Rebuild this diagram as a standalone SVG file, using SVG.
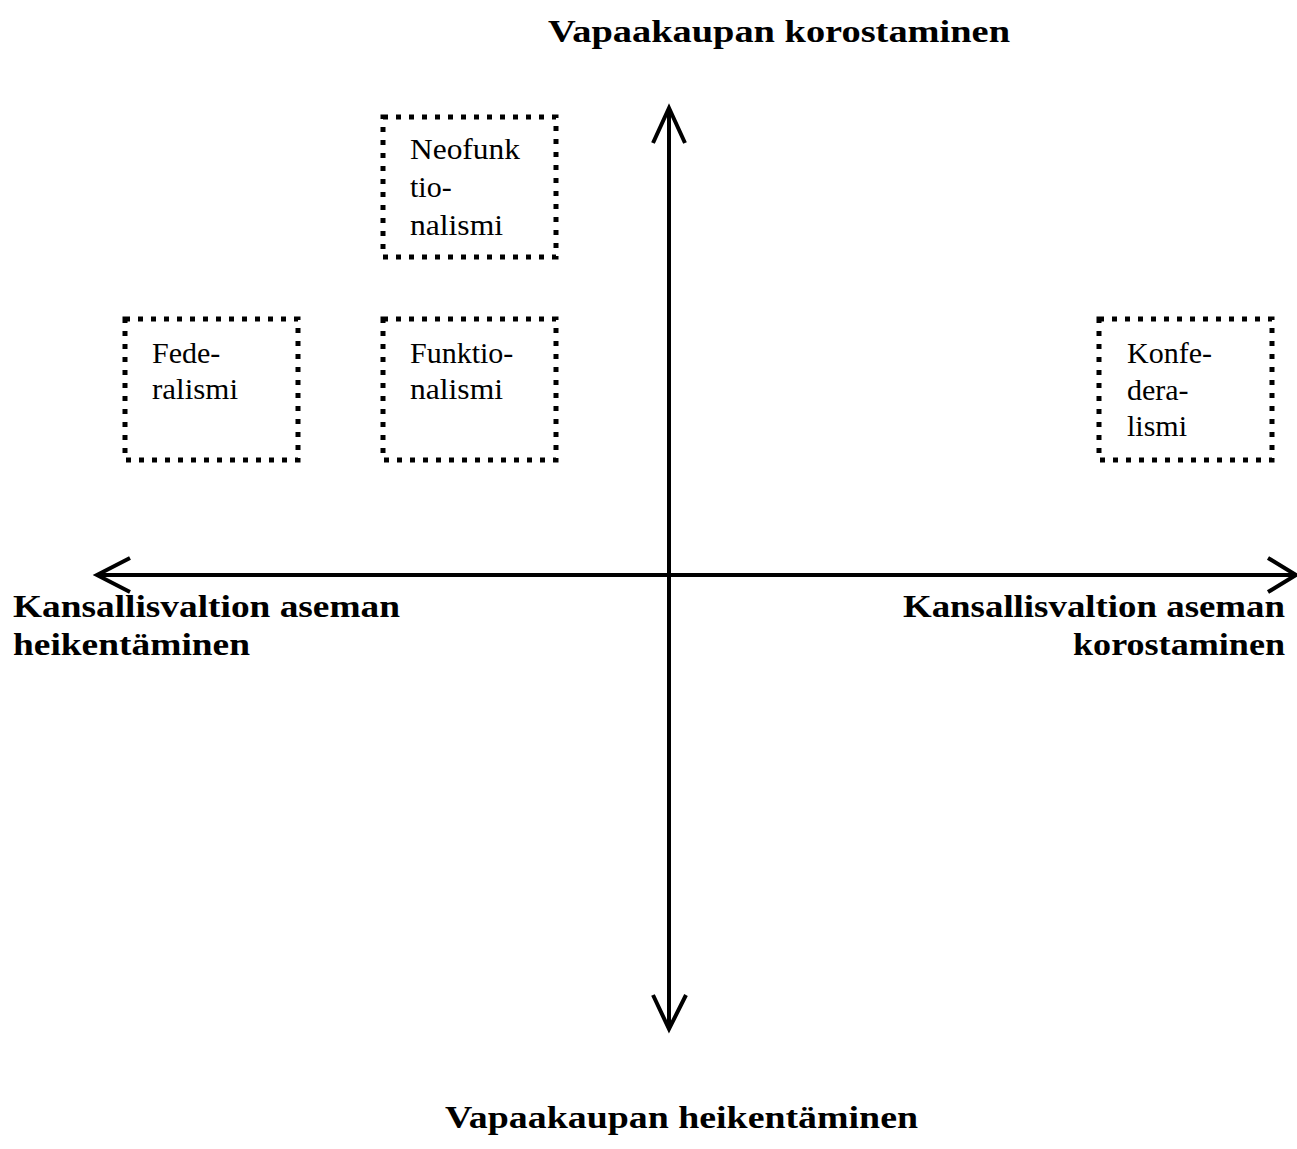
<svg xmlns="http://www.w3.org/2000/svg" width="1297" height="1149" viewBox="0 0 1297 1149">
<style>
.box{fill:none;stroke:#000;stroke-width:5;stroke-dasharray:5 8}
.t{font-family:"Liberation Serif","Times New Roman",serif;font-size:30px;fill:#000}
.lab{font-family:"Liberation Serif","Times New Roman",serif;font-size:32px;font-weight:bold;fill:#000}
.ax{fill:none;stroke:#000;stroke-width:4;stroke-linejoin:miter}
</style>
<rect width="1297" height="1149" fill="#fff"/>
<g id="connectors">
<line class="ax" x1="669" y1="110" x2="669" y2="1027"/>
<polyline class="ax" points="653,143 669,108 685,143"/>
<polyline class="ax" points="653,995 669,1029 686,995"/>
<line class="ax" x1="98" y1="575" x2="1295" y2="575"/>
<polyline class="ax" points="130,558 97,575 130,592"/>
<polyline class="ax" points="1268,558 1296,575 1268,592"/>
</g>
<g id="neofunktionalismi">
<rect class="box" x="383" y="117" width="173" height="140"/>
<text class="t" x="410" y="159" textLength="110" lengthAdjust="spacingAndGlyphs">Neofunk</text>
<text class="t" x="410" y="197">tio-</text>
<text class="t" x="410" y="235" textLength="93" lengthAdjust="spacingAndGlyphs">nalismi</text>
</g>
<g id="federalismi">
<rect class="box" x="125" y="319" width="173" height="141"/>
<text class="t" x="152" y="363">Fede-</text>
<text class="t" x="152" y="399" textLength="86" lengthAdjust="spacingAndGlyphs">ralismi</text>
</g>
<g id="funktionalismi">
<rect class="box" x="383" y="319" width="173" height="141"/>
<text class="t" x="410" y="363">Funktio-</text>
<text class="t" x="410" y="399" textLength="93" lengthAdjust="spacingAndGlyphs">nalismi</text>
</g>
<g id="konfederalismi">
<rect class="box" x="1099" y="319" width="173" height="141"/>
<text class="t" x="1127" y="363">Konfe-</text>
<text class="t" x="1127" y="400">dera-</text>
<text class="t" x="1127" y="436">lismi</text>
</g>
<g id="labels">
<text class="lab" x="548" y="42" textLength="462" lengthAdjust="spacingAndGlyphs">Vapaakaupan korostaminen</text>
<text class="lab" x="445" y="1128" textLength="473" lengthAdjust="spacingAndGlyphs">Vapaakaupan heikentäminen</text>
<text class="lab" x="13" y="617" textLength="387" lengthAdjust="spacingAndGlyphs">Kansallisvaltion aseman</text>
<text class="lab" x="13" y="655" textLength="237" lengthAdjust="spacingAndGlyphs">heikentäminen</text>
<text class="lab" x="903" y="617" textLength="382" lengthAdjust="spacingAndGlyphs">Kansallisvaltion aseman</text>
<text class="lab" x="1073" y="655" textLength="212" lengthAdjust="spacingAndGlyphs">korostaminen</text>
</g>
</svg>
